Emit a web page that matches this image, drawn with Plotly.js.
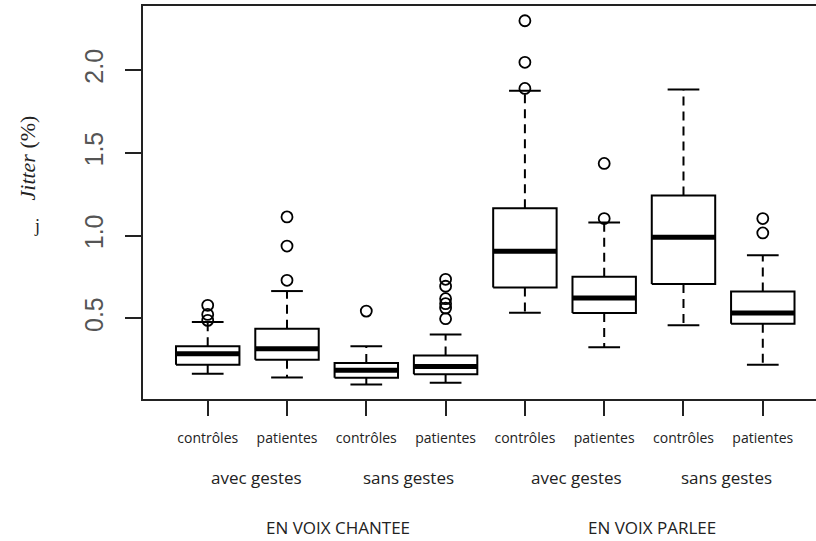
<!DOCTYPE html>
<html>
<head>
<meta charset="utf-8">
<script src="https://cdn.plot.ly/plotly-3.0.1.min.js"></script>
<style>html,body{margin:0;padding:0;background:#fff;}#chart{width:816px;height:541px;}</style>
</head>
<body>
<div id="chart"></div>
<script>
// ---- data ----
const categories = ['contrôles','patientes','contrôles','patientes','contrôles','patientes','contrôles','patientes'];
const positions = [1, 2, 3, 4, 5, 6, 7, 8];
const q1      = [0.220, 0.250, 0.141, 0.163, 0.686, 0.532, 0.707, 0.468];
const medians = [0.287, 0.317, 0.186, 0.210, 0.905, 0.623, 0.990, 0.532];
const q3      = [0.331, 0.438, 0.230, 0.276, 1.165, 0.752, 1.242, 0.662];
const lowerWhisker = [0.166, 0.143, 0.101, 0.111, 0.534, 0.326, 0.458, 0.220];
const upperWhisker = [0.478, 0.665, 0.331, 0.403, 1.875, 1.079, 1.883, 0.881];
const outliers = [
  [0.579, 0.524, 0.488],
  [1.113, 0.937, 0.730],
  [0.544],
  [0.736, 0.694, 0.619, 0.589, 0.562, 0.498],
  [2.298, 2.047, 1.889],
  [1.436, 1.103],
  [],
  [1.103, 1.016]
];
const gestureLabels = ['avec gestes', 'sans gestes', 'avec gestes', 'sans gestes'];
const gesturePos = [1.618, 3.526, 5.65, 7.54];
const voiceLabels = ['EN VOIX CHANTEE', 'EN VOIX PARLEE'];
const voicePos = [2.64, 6.60];
const yTicks = [0.5, 1.0, 1.5, 2.0];
const yTickText = ['0.5', '1.0', '1.5', '2.0'];

// ---- geometry helpers (styles only) ----
const boxHalf = 0.4, capHalf = 0.2;
const bx = [], by = [], mx = [], my = [], wx = [], wy = [], cx = [], cy = [], ox = [], oy = [];
positions.forEach((p, i) => {
  bx.push(p - boxHalf, p + boxHalf, p + boxHalf, p - boxHalf, p - boxHalf, null);
  by.push(q1[i], q1[i], q3[i], q3[i], q1[i], null);
  mx.push(p - boxHalf, p + boxHalf, null);
  my.push(medians[i], medians[i], null);
  wx.push(p, p, null, p, p, null);
  wy.push(q3[i], upperWhisker[i], null, q1[i], lowerWhisker[i], null);
  cx.push(p - capHalf, p + capHalf, null, p - capHalf, p + capHalf, null);
  cy.push(upperWhisker[i], upperWhisker[i], null, lowerWhisker[i], lowerWhisker[i], null);
  outliers[i].forEach(v => { ox.push(p); oy.push(v); });
});

const traces = [
  {x: wx, y: wy, mode: 'lines', line: {color: '#000', width: 2, dash: '9px,6px'}, hoverinfo: 'skip'},
  {x: cx, y: cy, mode: 'lines', line: {color: '#000', width: 2}, hoverinfo: 'skip'},
  {x: bx, y: by, mode: 'lines', line: {color: '#000', width: 2}, hoverinfo: 'skip'},
  {x: mx, y: my, mode: 'lines', line: {color: '#000', width: 5}, hoverinfo: 'skip'},
  {x: ox, y: oy, mode: 'markers', marker: {symbol: 'circle-open', size: 11, color: '#000', line: {width: 1.8, color: '#000'}}, hoverinfo: 'skip'}
];

const annotations = [];
gestureLabels.forEach((t, i) => annotations.push({
  text: t, x: gesturePos[i], xref: 'x', y: -0.201, yref: 'paper', showarrow: false,
  xanchor: 'center', yanchor: 'middle', font: {family: 'Open Sans', size: 17, color: '#222'}
}));
voiceLabels.forEach((t, i) => annotations.push({
  text: t, x: voicePos[i], xref: 'x', y: -0.328, yref: 'paper', showarrow: false,
  xanchor: 'center', yanchor: 'middle', font: {family: 'Open Sans', size: 17, color: '#222'}
}));
annotations.push({
  text: '<i>Jitter</i> (%)', xref: 'paper', x: (27 - 143) / 673, yref: 'paper', y: (399 - 158.5) / 393,
  showarrow: false, textangle: -90, xanchor: 'center', yanchor: 'middle',
  font: {family: 'Liberation Serif', size: 22, color: '#222'}
});
annotations.push({
  text: 'j', xref: 'paper', x: (37 - 143) / 673, yref: 'paper', y: (399 - 226) / 393,
  showarrow: false, xanchor: 'center', yanchor: 'middle',
  font: {family: 'Liberation Serif', size: 18, color: '#222'}
});

const layout = {
  width: 816, height: 541,
  margin: {l: 143, r: 0, t: 6, b: 142},
  paper_bgcolor: '#fff', plot_bgcolor: '#fff',
  showlegend: false,
  xaxis: {
    range: [0.184, 8.671], tickvals: positions, ticktext: categories,
    showline: true, mirror: true, linecolor: '#222', linewidth: 2,
    ticks: 'outside', ticklen: 15, tickwidth: 2, tickcolor: '#222',
    showgrid: false, zeroline: false, tickangle: 0,
    tickfont: {family: 'Open Sans', size: 14, color: '#222'},
    ticklabelstandoff: 10
  },
  yaxis: {
    range: [0.013, 2.387], tickvals: yTicks, ticktext: yTickText,
    showline: true, mirror: false, linecolor: '#222', linewidth: 2,
    ticks: 'outside', ticklen: 16, tickwidth: 2, tickcolor: '#222',
    showgrid: false, zeroline: false, tickangle: -90,
    tickfont: {family: 'Liberation Sans', size: 25, color: '#555'},
    ticklabelstandoff: 12
  },
  annotations: annotations
};

Plotly.newPlot('chart', traces, layout, {staticPlot: true, displayModeBar: false});
</script>
</body>
</html>
